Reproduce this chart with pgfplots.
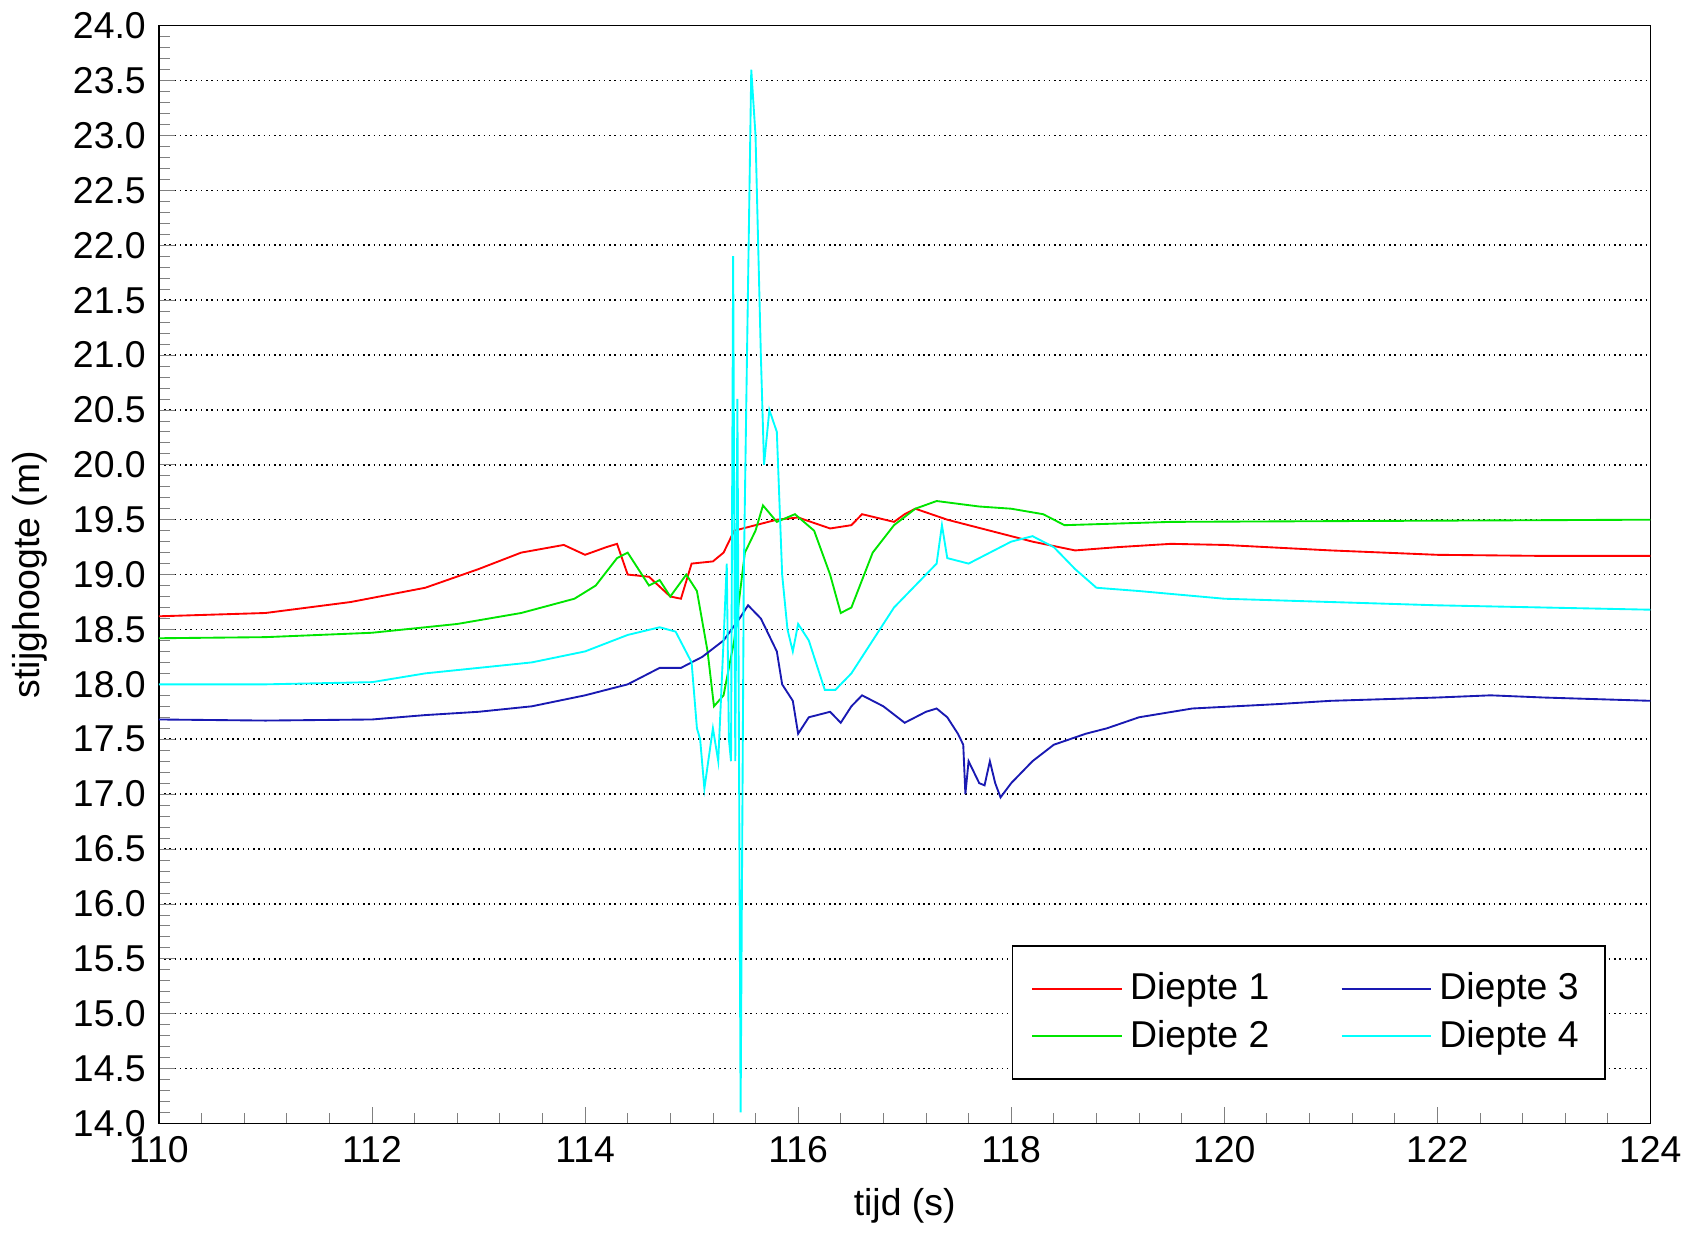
\documentclass[border=0pt]{standalone}
\usepackage{pgfplots}
\pgfplotsset{compat=1.18}
\usepackage{fontspec}
\setmainfont{Liberation Sans}
\definecolor{cy}{rgb}{0,1,1}
\definecolor{gr}{rgb}{0,0.9,0}
\definecolor{bl}{rgb}{0.1,0.1,0.7}
\begin{document}
\begin{tikzpicture}
\begin{axis}[width=15.6cm,height=11.9cm,
 xmin=110,xmax=124,ymin=14,ymax=24,
 xtick={110,112,...,124},ytick={14,14.5,...,24},
 yticklabel style={/pgf/number format/.cd,fixed,fixed zerofill,precision=1},
 /pgf/number format/assume math mode=true,
 minor x tick num=4, minor y tick num=4,
 tick align=inside, tick pos=left,
 ymajorgrids, grid style={black,densely dotted},
 xlabel={tijd (s)}, ylabel={stijghoogte (m)},
 tick label style={font=\normalsize}, label style={font=\normalsize},
 legend columns=2, transpose legend,
 legend style={at={(0.97,0.04)},anchor=south east,font=\normalsize,draw=black,inner sep=5pt,/tikz/every even column/.append style={column sep=6mm}},
 legend cell align=left,
 legend image post style={xscale=1.4},
 every axis plot/.append style={line width=0.5pt}]
\addplot[red] coordinates {(110,18.62)(111,18.65)(111.8,18.75)(112.5,18.88)(113,19.05)(113.4,19.2)(113.8,19.27)(114,19.18)(114.2,19.25)(114.3,19.28)(114.4,19.0)(114.6,18.98)(114.8,18.8)(114.9,18.78)(115,19.1)(115.2,19.12)(115.3,19.2)(115.4,19.4)(115.6,19.45)(115.8,19.5)(116,19.52)(116.3,19.42)(116.5,19.45)(116.6,19.55)(116.9,19.48)(117.0,19.55)(117.1,19.6)(117.4,19.5)(117.8,19.4)(118.2,19.3)(118.6,19.22)(119,19.25)(119.5,19.28)(120,19.27)(121,19.22)(122,19.18)(123,19.17)(124,19.17)};
\addlegendentry{Diepte 1}
\addplot[gr] coordinates {(110,18.42)(111,18.43)(112,18.47)(112.8,18.55)(113.4,18.65)(113.9,18.78)(114.1,18.9)(114.3,19.15)(114.4,19.2)(114.5,19.05)(114.6,18.9)(114.7,18.95)(114.8,18.8)(114.95,19.0)(115.05,18.85)(115.15,18.3)(115.21,17.8)(115.3,17.9)(115.4,18.4)(115.5,19.2)(115.6,19.4)(115.67,19.63)(115.8,19.48)(115.97,19.55)(116.15,19.4)(116.3,19.0)(116.4,18.65)(116.5,18.7)(116.7,19.2)(116.9,19.45)(117.1,19.6)(117.3,19.67)(117.7,19.62)(118.0,19.6)(118.3,19.55)(118.5,19.45)(119.5,19.48)(124,19.5)};
\addlegendentry{Diepte 2}
\addplot[bl] coordinates {(110,17.68)(111,17.67)(112,17.68)(112.5,17.72)(113,17.75)(113.5,17.8)(114,17.9)(114.4,18.0)(114.7,18.15)(114.9,18.15)(115.1,18.25)(115.3,18.4)(115.45,18.6)(115.53,18.72)(115.65,18.6)(115.8,18.3)(115.85,18.0)(115.95,17.85)(116.0,17.55)(116.1,17.7)(116.3,17.75)(116.4,17.65)(116.5,17.8)(116.6,17.9)(116.8,17.8)(117.0,17.65)(117.2,17.75)(117.3,17.78)(117.4,17.7)(117.5,17.55)(117.55,17.45)(117.57,17.0)(117.6,17.3)(117.7,17.1)(117.75,17.08)(117.8,17.3)(117.85,17.1)(117.9,16.97)(118.0,17.1)(118.2,17.3)(118.4,17.45)(118.7,17.55)(118.9,17.6)(119.2,17.7)(119.7,17.78)(120.5,17.82)(121,17.85)(122,17.88)(122.5,17.9)(123,17.88)(124,17.85)};
\addlegendentry{Diepte 3}
\addplot[cy] coordinates {(110,18.0)(111,18.0)(112,18.02)(112.5,18.1)(113,18.15)(113.5,18.2)(114,18.3)(114.4,18.45)(114.7,18.52)(114.85,18.48)(115.0,18.2)(115.05,17.6)(115.08,17.5)(115.12,17.05)(115.2,17.6)(115.25,17.3)(115.3,18.4)(115.33,19.1)(115.35,17.5)(115.37,17.3)(115.39,21.9)(115.41,17.3)(115.43,20.6)(115.46,14.1)(115.49,19.0)(115.52,21.0)(115.56,23.6)(115.6,23.0)(115.65,21.0)(115.68,20.0)(115.73,20.5)(115.8,20.3)(115.85,19.0)(115.9,18.5)(115.95,18.3)(116.0,18.55)(116.1,18.4)(116.2,18.1)(116.25,17.95)(116.35,17.95)(116.5,18.1)(116.7,18.4)(116.9,18.7)(117.1,18.9)(117.3,19.1)(117.35,19.45)(117.4,19.15)(117.6,19.1)(117.8,19.2)(118.0,19.3)(118.2,19.35)(118.4,19.25)(118.6,19.05)(118.8,18.88)(119.2,18.85)(120,18.78)(121,18.75)(122,18.72)(123,18.7)(124,18.68)};
\addlegendentry{Diepte 4}
\end{axis}
\end{tikzpicture}
\end{document}
